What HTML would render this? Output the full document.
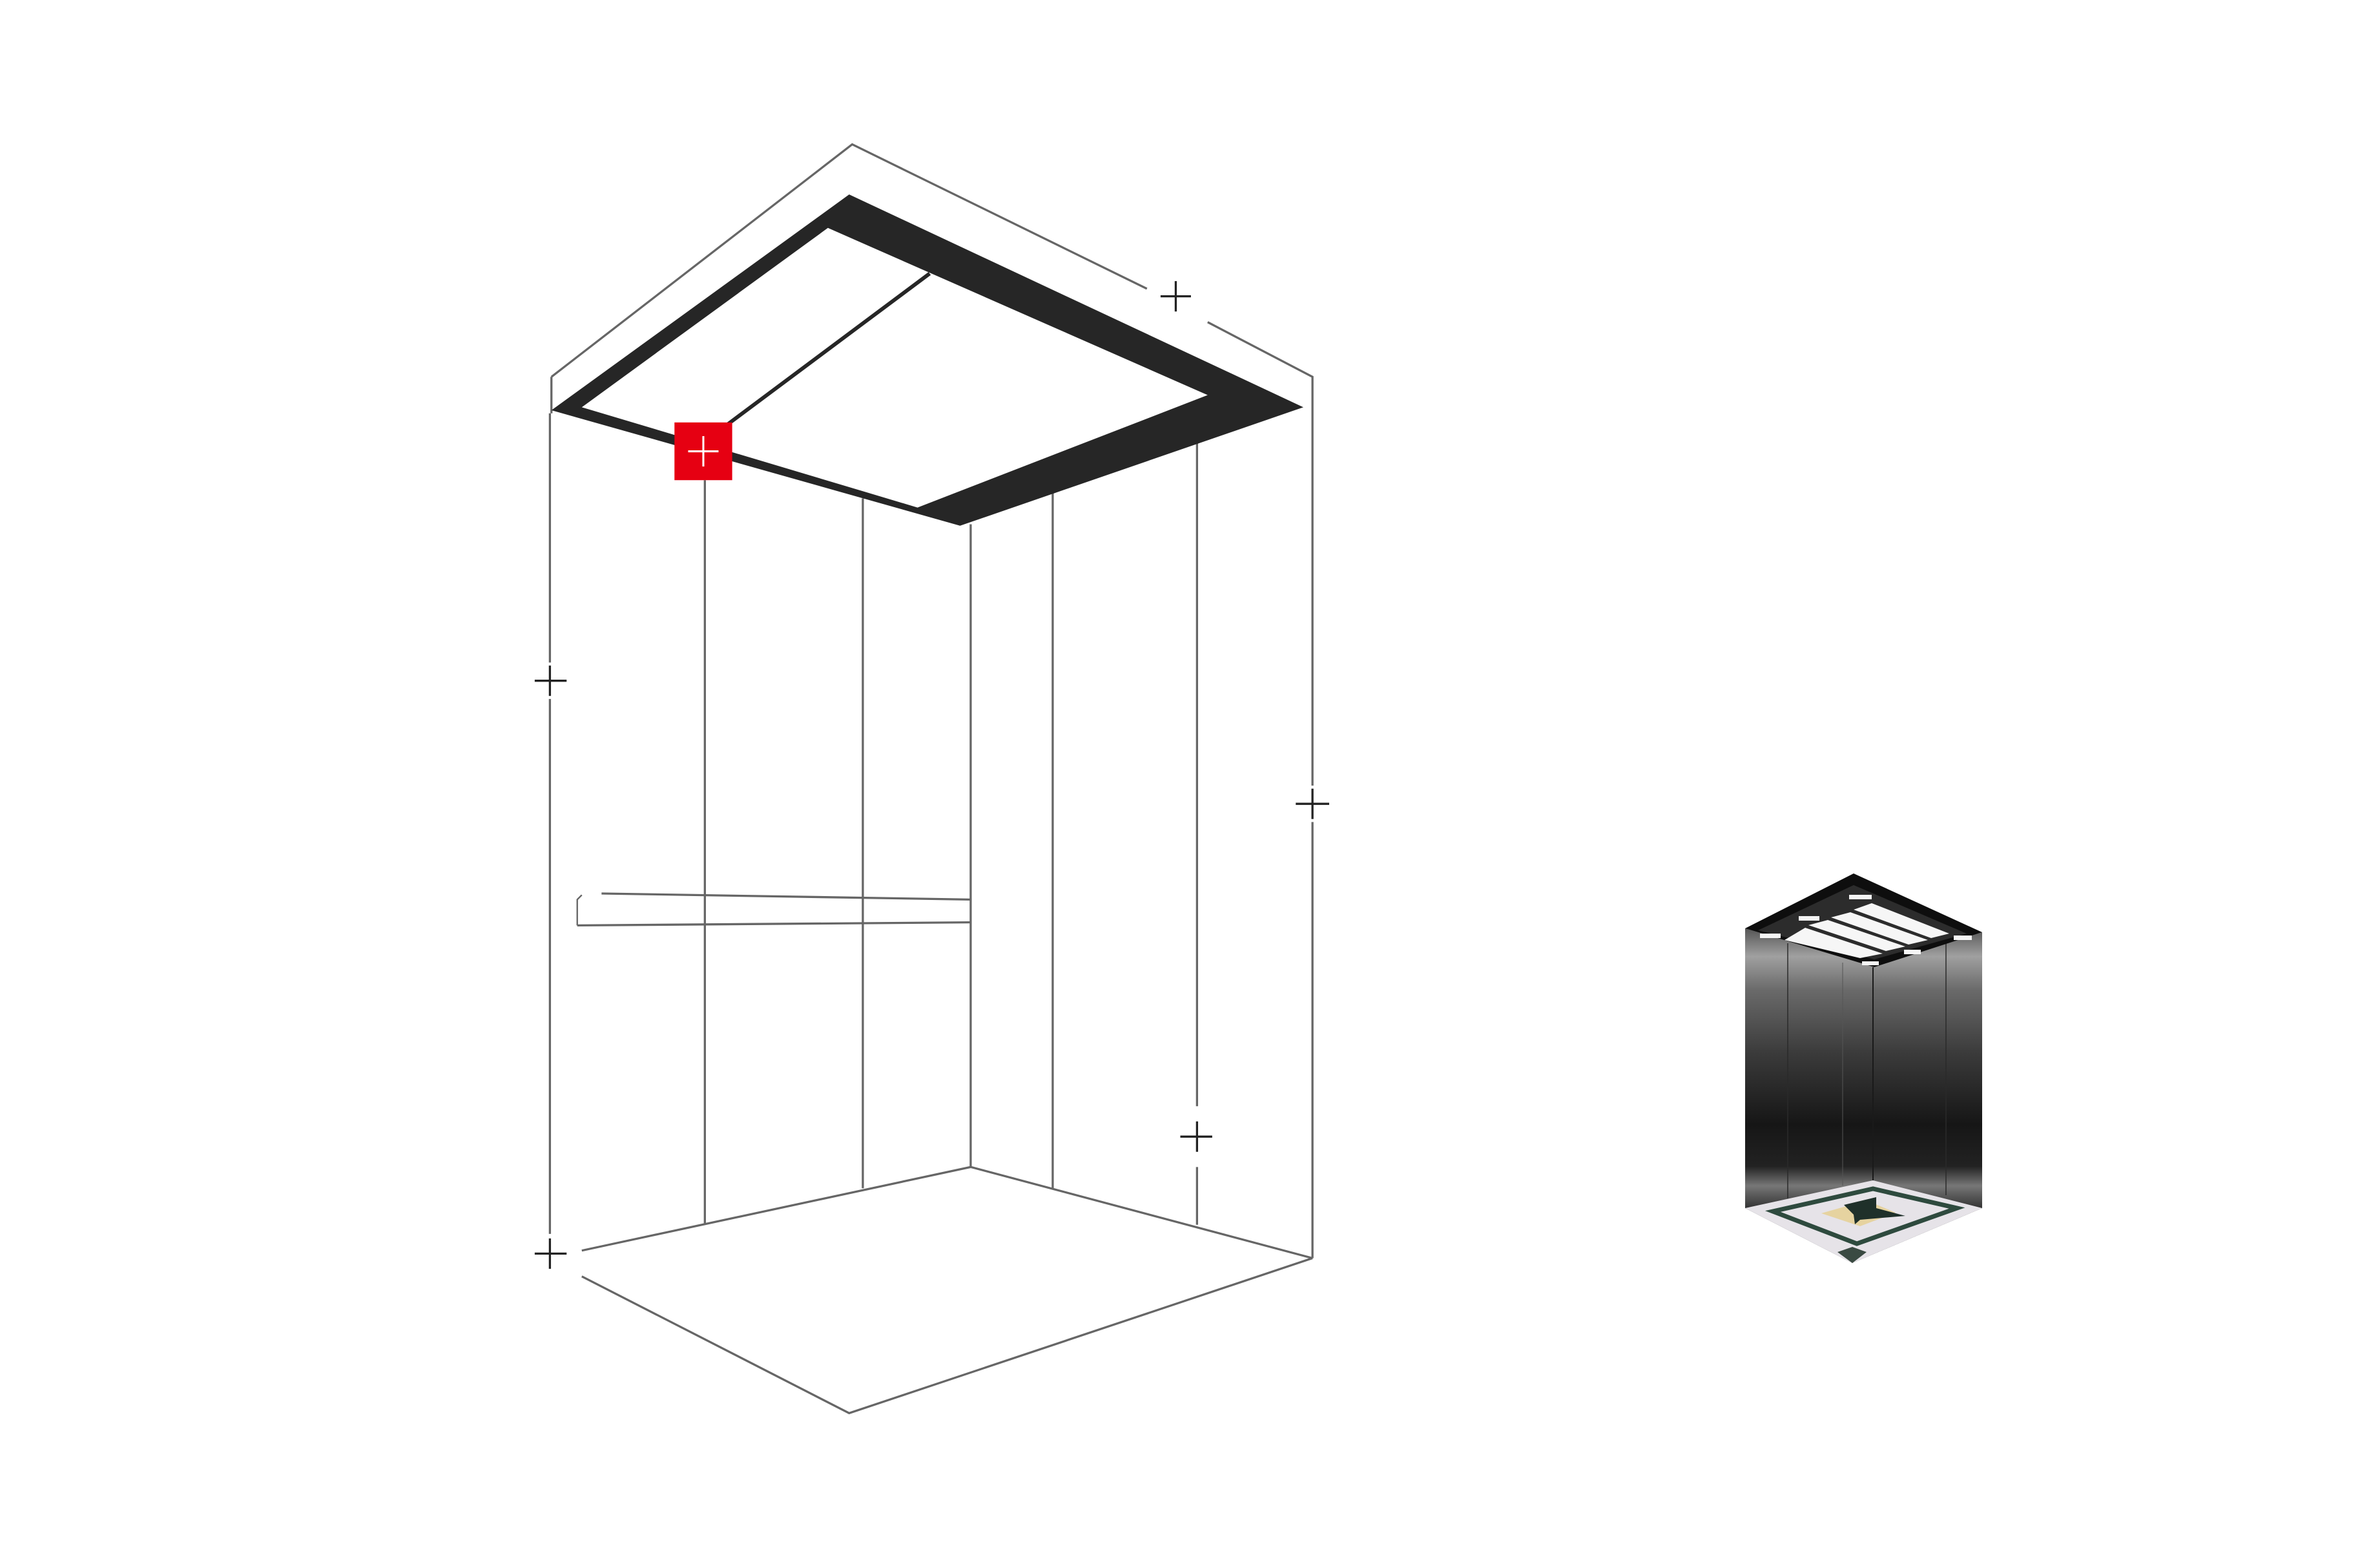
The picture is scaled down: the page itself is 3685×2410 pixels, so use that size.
<!DOCTYPE html>
<html><head><meta charset="utf-8"><style>html,body{margin:0;padding:0;background:#fff}svg{display:block}</style></head>
<body>
<svg width="3685" height="2410" viewBox="0 0 3685 2410" xmlns="http://www.w3.org/2000/svg">
<rect width="3685" height="2410" fill="#fff"/>
<g transform="scale(2.352)" fill="none" stroke="#666" stroke-width="1.4">
 <polyline points="363,248 561,95 755,190"/>
 <polyline points="795,212 864,248 864,517"/>
 <line x1="864" y1="541" x2="864" y2="828"/>
 <line x1="363" y1="248" x2="363" y2="272"/>
 <line x1="362" y1="272" x2="362" y2="436"/>
 <line x1="362" y1="460" x2="362" y2="812"/>
 <polyline points="383,840 559,930 864,828"/>
 <polyline points="383,823 639,768 864,828"/>
 <line x1="639" y1="345" x2="639" y2="768"/>
 <line x1="464" y1="316" x2="464" y2="805"/>
 <line x1="568" y1="328" x2="568" y2="782"/>
 <line x1="693" y1="323" x2="693" y2="782"/>
 <line x1="788" y1="291" x2="788" y2="728"/>
 <line x1="788" y1="768" x2="788" y2="806"/>
 <line x1="396" y1="588" x2="639" y2="592"/>
 <line x1="380" y1="609" x2="639" y2="607"/>
 <polyline points="383,589 380,592 380,609" stroke-width="1"/>
 <polygon points="559,128 858,268 632,346 363,270" fill="#262626" stroke="none"/>
 <polygon points="545,150 795,260 604,334 383,268" fill="#fff" stroke="none"/>
 <line x1="612" y1="180" x2="478" y2="280" stroke="#262626" stroke-width="2.5"/>
 <rect x="444" y="278" width="38" height="38" fill="#e60012" stroke="none"/>
 <g stroke="#fff" stroke-width="1.3"><line x1="453" y1="297" x2="473" y2="297"/><line x1="463" y1="287" x2="463" y2="307"/></g>
 <g stroke="#222" stroke-width="1.4">
  <line x1="764" y1="195" x2="784" y2="195"/><line x1="774" y1="185" x2="774" y2="205"/>
  <line x1="352" y1="448" x2="373" y2="448"/><line x1="362" y1="438" x2="362" y2="458"/>
  <line x1="853" y1="529" x2="875" y2="529"/><line x1="864" y1="519" x2="864" y2="539"/>
  <line x1="777" y1="748" x2="798" y2="748"/><line x1="788" y1="738" x2="788" y2="758"/>
  <line x1="352" y1="825" x2="373" y2="825"/><line x1="362" y1="815" x2="362" y2="835"/>
 </g>
</g>
<defs>
 <linearGradient id="wall" x1="0" y1="1437" x2="0" y2="1870" gradientUnits="userSpaceOnUse">
  <stop offset="0" stop-color="#555"/><stop offset="0.1" stop-color="#a0a0a0"/><stop offset="0.22" stop-color="#6a6a6a"/>
  <stop offset="0.45" stop-color="#3a3a3a"/><stop offset="0.7" stop-color="#161616"/><stop offset="0.85" stop-color="#222"/>
  <stop offset="0.92" stop-color="#777"/><stop offset="1" stop-color="#333"/>
 </linearGradient>
</defs>
<polygon points="2702,1437 2702,1870 2868,1955 3069,1870 3069,1443 2902,1497" fill="url(#wall)"/>
<line x1="2900" y1="1497" x2="2900" y2="1827" stroke="#1a1a1a" stroke-width="2"/>
<line x1="2768" y1="1460" x2="2768" y2="1855" stroke="#2a2a2a" stroke-width="1.5"/>
<line x1="2853" y1="1490" x2="2853" y2="1835" stroke="#555" stroke-width="1"/>
<line x1="3013" y1="1460" x2="3013" y2="1850" stroke="#2a2a2a" stroke-width="1.5"/>
<polygon points="2702,1870 2900,1827 3069,1870 2868,1955" fill="#e6e3e8"/>
<polygon points="2745,1875 2900,1840 3030,1870 2875,1925" fill="none" stroke="#2e4a3e" stroke-width="7"/>
<polygon points="2820,1878 2890,1858 2935,1877 2880,1898" fill="#e6d3a0"/>
<polygon points="2855,1865 2905,1853 2905,1870 2950,1882 2880,1888 2872,1895 2870,1880" fill="#1f302a"/>
<polygon points="2845,1938 2868,1930 2890,1938 2868,1955" fill="#3a4a42"/>
<polygon points="2870,1352 3069,1443 2902,1497 2702,1437" fill="#0e0e0e"/>
<polygon points="2870,1370 3045,1445 2902,1485 2722,1440" fill="#2c2c2c"/>
<g fill="#f6f6f6">
 <polygon points="2898,1398 3018,1445 2990,1452 2870,1408"/>
 <polygon points="2865,1412 2985,1455 2955,1462 2835,1420"/>
 <polygon points="2830,1424 2950,1465 2920,1472 2800,1432"/>
 <polygon points="2795,1436 2915,1476 2880,1483 2763,1455"/>
 <rect x="2725" y="1445" width="32" height="7"/><rect x="2785" y="1418" width="32" height="7"/>
 <rect x="2863" y="1385" width="35" height="7"/><rect x="3025" y="1448" width="28" height="7"/>
 <rect x="2948" y="1470" width="26" height="7"/><rect x="2883" y="1488" width="26" height="6"/>
</g>
</svg>
</body></html>
